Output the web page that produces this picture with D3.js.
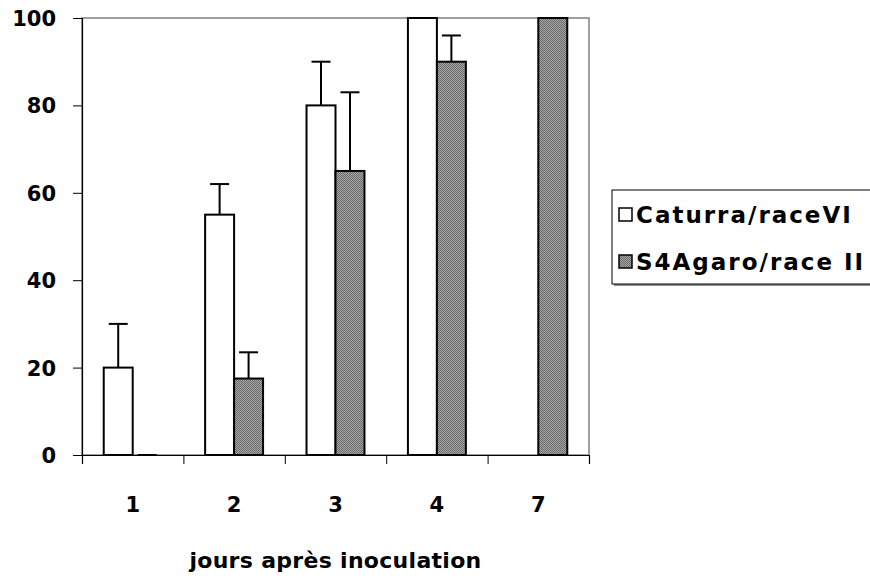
<!DOCTYPE html>
<html>
<head>
<meta charset="utf-8">
<script src="https://cdn.jsdelivr.net/npm/d3@7"></script>
<style>
  body { margin: 0; background: #fff; }
  text { font-family: "DejaVu Sans", sans-serif; font-weight: bold; fill: #000; }
</style>
</head>
<body>
<script>
//Global sizes
var W = 870;
var H = 579;
var Left = 82, Right = 589, Top = 18, Bottom = 455;

//Data
var days = ["1", "2", "3", "4", "7"];
var seriesNames = ["Caturra/raceVI", "S4Agaro/race II"];
var caturra = [20, 55, 80, 100, null];
var caturraErr = [10, 7, 10, null, null];
var agaro = [0, 17.5, 65, 90, 100];
var agaroErr = [0, 6, 18, 6, null];
var yTicks = [0, 20, 40, 60, 80, 100];
var xTitle = "jours après inoculation";

function main() {
  var svg = makeSVG("body");
  makePattern(svg);

  var x0 = d3.scaleBand().domain(days).range([Left, Right]).padding(0);
  var x1 = d3.scaleBand().domain([0, 1]).range([0, x0.bandwidth()])
    .paddingInner(0).paddingOuter(0.75);
  var y = d3.scaleLinear().domain([0, 100]).range([Bottom, Top]);

  //plot area border (grey)
  svg.append("rect")
    .attr("x", Left).attr("y", Top)
    .attr("width", Right - Left).attr("height", Bottom - Top)
    .attr("fill", "none").attr("stroke", "#808080").attr("stroke-width", 1.5);

  var series = [
    { vals: caturra, errs: caturraErr, fill: "#fff" },
    { vals: agaro, errs: agaroErr, fill: "url(#hatch)" }
  ];

  series.forEach(function(s, si) {
    var rows = days.map(function(d, i) { return { day: d, v: s.vals[i], e: s.errs[i] }; });
    var cx = function(d) { return x0(d.day) + x1(si) + x1.bandwidth() / 2; };

    //error bars first so the bar covers the stem
    var eb = rows.filter(function(d) { return d.v != null && d.e != null; });
    svg.selectAll(".stem" + si).data(eb).enter().append("line")
      .attr("x1", cx).attr("x2", cx)
      .attr("y1", function(d) { return y(d.v); })
      .attr("y2", function(d) { return y(d.v + d.e); })
      .attr("stroke", "#000").attr("stroke-width", 2);
    svg.selectAll(".cap" + si).data(eb).enter().append("line")
      .attr("x1", function(d) { return cx(d) - 9.5; })
      .attr("x2", function(d) { return cx(d) + 9.5; })
      .attr("y1", function(d) { return y(d.v + d.e); })
      .attr("y2", function(d) { return y(d.v + d.e); })
      .attr("stroke", "#000").attr("stroke-width", 2);

    svg.selectAll(".bar" + si)
      .data(rows.filter(function(d) { return d.v != null && d.v > 0; }))
      .enter().append("rect")
      .attr("x", function(d) { return x0(d.day) + x1(si); })
      .attr("y", function(d) { return y(d.v); })
      .attr("width", x1.bandwidth())
      .attr("height", function(d) { return y(0) - y(d.v); })
      .attr("fill", s.fill)
      .attr("stroke", "#000").attr("stroke-width", 2);
  });

  //y axis
  var yAxis = d3.axisLeft(y).tickValues(yTicks).tickSize(9).tickPadding(17);
  var gy = svg.append("g").attr("transform", "translate(" + Left + ",0)").call(yAxis);
  gy.select(".domain").attr("stroke", "#000").attr("stroke-width", 1.2);
  gy.selectAll(".tick line").attr("stroke", "#000");
  gy.selectAll("text").attr("font-size", 21).attr("dy", "0.36em")
    .style("font-family", "DejaVu Sans").style("font-weight", "bold");

  //x axis: ticks sit on the category borders
  var xb = d3.scaleLinear().domain([0, days.length]).range([Left, Right]);
  var xAxis = d3.axisBottom(xb).ticks(days.length).tickSize(9).tickFormat("");
  var gx = svg.append("g").attr("transform", "translate(0," + Bottom + ")").call(xAxis);
  gx.select(".domain").attr("stroke", "#000").attr("stroke-width", 1.2);
  gx.selectAll(".tick line").attr("stroke", "#000");

  svg.selectAll(".xlab").data(days).enter().append("text")
    .attr("x", function(d) { return x0(d) + x0.bandwidth() / 2; })
    .attr("y", 512)
    .attr("text-anchor", "middle")
    .attr("font-size", 21)
    .text(function(d) { return d; });

  svg.append("text")
    .attr("x", (Left + Right) / 2).attr("y", 568)
    .attr("text-anchor", "middle")
    .attr("font-size", 22)
    .attr("letter-spacing", 0.3)
    .text(xTitle);

  makeLegend(svg);
}

function makeSVG(where) {
  return d3.select(where).append("svg")
    .attr("width", W).attr("height", H);
}

function makePattern(svg) {
  //fine diagonal hatch like the old excel fill
  var p = svg.append("defs").append("pattern")
    .attr("id", "hatch").attr("patternUnits", "userSpaceOnUse")
    .attr("width", 2).attr("height", 2);
  p.append("rect").attr("width", 2).attr("height", 2).attr("fill", "#a4a4a4");
  p.append("rect").attr("x", 0).attr("y", 0).attr("width", 1).attr("height", 1).attr("fill", "#6c6c6c");
  p.append("rect").attr("x", 1).attr("y", 1).attr("width", 1).attr("height", 1).attr("fill", "#6c6c6c");
}

function makeLegend(svg) {
  var g = svg.append("g");
  //shadow then box
  g.append("rect").attr("x", 614).attr("y", 192).attr("width", 262).attr("height", 94)
    .attr("fill", "#909090");
  g.append("rect").attr("x", 612).attr("y", 190).attr("width", 262).attr("height", 94)
    .attr("fill", "#fff").attr("stroke", "#000").attr("stroke-width", 1);

  var fills = ["#fff", "url(#hatch)"];
  var rowsY = [215, 262];
  seriesNames.forEach(function(name, i) {
    g.append("rect").attr("x", 619).attr("y", rowsY[i] - 7)
      .attr("width", 13).attr("height", 13)
      .attr("fill", fills[i]).attr("stroke", "#000").attr("stroke-width", 1.5);
    g.append("text").attr("x", 636).attr("y", rowsY[i])
      .attr("dy", "0.36em")
      .attr("font-size", 23)
      .attr("letter-spacing", 2)
      .text(name);
  });
}

main();
</script>
</body>
</html>
